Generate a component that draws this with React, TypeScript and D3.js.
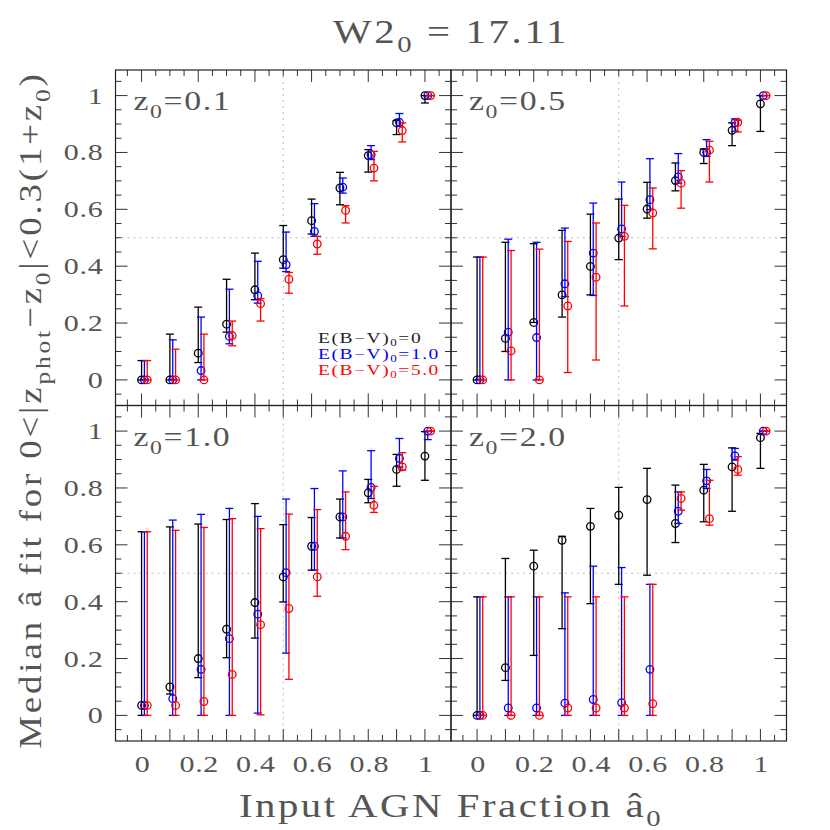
import React from "react";
import * as d3 from "d3";

const AGN_FRAC = [0, 0.1, 0.2, 0.3, 0.4, 0.5, 0.6, 0.7, 0.8, 0.9, 1.0];
const SERIES_OFFSETS = [0, 0.01, 0.02];
const SERIES_COLORS = ["#000000", "#0000ff", "#ff0000"];
const LEGEND_LABELS = ["0", "1.0", "5.0"];
const PANEL_LABELS = ["0.1", "0.5", "1.0", "2.0"];
const Y_TICK_LABELS = ["0", "0.2", "0.4", "0.6", "0.8", "1"];
const X_TICK_LABELS = ["0", "0.2", "0.4", "0.6", "0.8", "1"];

// Panel z0=0.1
const p1BlackMed = [0, 0, 0.094, 0.196, 0.317, 0.423, 0.56, 0.675, 0.789, 0.904, 1.0];
const p1BlackLo = [0, 0, 0.061, 0.168, 0.282, 0.393, 0.513, 0.616, 0.731, 0.863, 0.974];
const p1BlackHi = [0.068, 0.161, 0.256, 0.354, 0.446, 0.543, 0.636, 0.73, 0.81, 0.912, 1.0];
const p1BlueMed = [0, 0, 0.033, 0.153, 0.296, 0.405, 0.522, 0.678, 0.792, 0.906, 1.0];
const p1BlueLo = [0, 0, 0, 0.127, 0.27, 0.381, 0.505, 0.657, 0.775, 0.892, 1.0];
const p1BlueHi = [0.068, 0.141, 0.221, 0.319, 0.417, 0.52, 0.62, 0.71, 0.824, 0.937, 1.0];
const p1RedMed = [0, 0, 0, 0.156, 0.268, 0.354, 0.478, 0.596, 0.745, 0.877, 1.0];
const p1RedLo = [0, 0, 0, 0.12, 0.207, 0.305, 0.442, 0.552, 0.7, 0.837, 1.0];
const p1RedHi = [0.068, 0.108, 0.161, 0.207, 0.286, 0.378, 0.505, 0.613, 0.804, 0.904, 1.0];

// Panel z0=0.5
const p2BlackMed = [0, 0.146, 0.202, 0.299, 0.399, 0.499, 0.601, 0.701, 0.8, 0.878, 0.971];
const p2BlackLo = [0, 0.1, 0.202, 0.221, 0.299, 0.423, 0.569, 0.665, 0.761, 0.824, 0.874];
const p2BlackHi = [0.432, 0.484, 0.479, 0.526, 0.583, 0.636, 0.695, 0.763, 0.812, 0.904, 1.0];
const p2BlueMed = [0, 0.168, 0.149, 0.338, 0.446, 0.531, 0.634, 0.714, 0.8, 0.904, 1.0];
const p2BlueLo = [0, 0, 0, 0.293, 0.297, 0.505, 0.599, 0.692, 0.786, 0.874, 1.0];
const p2BlueHi = [0.432, 0.495, 0.484, 0.534, 0.622, 0.696, 0.778, 0.796, 0.845, 0.918, 1.0];
const p2RedMed = [0, 0.102, 0, 0.26, 0.361, 0.505, 0.587, 0.692, 0.808, 0.906, 1.0];
const p2RedLo = [0, 0, 0, 0.026, 0.07, 0.26, 0.461, 0.604, 0.696, 0.872, 1.0];
const p2RedHi = [0.432, 0.455, 0.46, 0.487, 0.552, 0.614, 0.675, 0.736, 0.839, 0.913, 1.0];

// Panel z0=1.0
const p3BlackMed = [0.035, 0.1, 0.2, 0.303, 0.397, 0.487, 0.595, 0.698, 0.783, 0.865, 0.912];
const p3BlackLo = [0, 0.075, 0.133, 0.203, 0.272, 0.399, 0.511, 0.624, 0.748, 0.806, 0.827];
const p3BlackHi = [0.646, 0.663, 0.673, 0.689, 0.745, 0.671, 0.696, 0.761, 0.83, 0.918, 0.998];
const p3BlueMed = [0.035, 0.059, 0.162, 0.27, 0.356, 0.502, 0.595, 0.698, 0.802, 0.904, 1.0];
const p3BlueLo = [0, 0, 0, 0, 0.008, 0.219, 0.511, 0.624, 0.763, 0.874, 0.97];
const p3BlueHi = [0.646, 0.687, 0.707, 0.728, 0.7, 0.761, 0.798, 0.86, 0.931, 0.974, 1.0];
const p3RedMed = [0.035, 0.035, 0.049, 0.144, 0.319, 0.376, 0.487, 0.63, 0.739, 0.874, 1.0];
const p3RedLo = [0, 0, 0, 0, 0.002, 0.127, 0.419, 0.583, 0.714, 0.863, 1.0];
const p3RedHi = [0.646, 0.651, 0.661, 0.692, 0.657, 0.708, 0.724, 0.786, 0.806, 0.924, 1.0];

// Panel z0=2.0
const p4BlackMed = [0, 0.168, 0.525, 0.616, 0.665, 0.704, 0.759, 0.675, 0.792, 0.874, 0.977];
const p4BlackLo = [0, 0.123, 0.211, 0.305, 0.393, 0.461, 0.493, 0.608, 0.681, 0.718, 0.869];
const p4BlackHi = [0.417, 0.552, 0.581, 0.63, 0.728, 0.802, 0.869, 0.81, 0.883, 0.941, 0.992];
const p4BlueMed = [0, 0.026, 0.026, 0.043, 0.056, 0.045, 0.162, 0.718, 0.825, 0.913, 1.0];
const p4BlueLo = [0, 0, 0, 0, 0, 0, 0, 0.675, 0.798, 0.898, 1.0];
const p4BlueHi = [0.417, 0.417, 0.417, 0.431, 0.525, 0.52, 0.461, 0.786, 0.865, 0.939, 1.0];
const p4RedMed = [0, 0, 0, 0.026, 0.026, 0.026, 0.041, 0.763, 0.692, 0.865, 1.0];
const p4RedLo = [0, 0, 0, 0, 0, 0, 0, 0.722, 0.669, 0.845, 1.0];
const p4RedHi = [0.417, 0.417, 0.417, 0.417, 0.417, 0.417, 0.461, 0.786, 0.827, 0.91, 1.0];

const PANELS = [
  [[p1BlackMed, p1BlackLo, p1BlackHi], [p1BlueMed, p1BlueLo, p1BlueHi], [p1RedMed, p1RedLo, p1RedHi]],
  [[p2BlackMed, p2BlackLo, p2BlackHi], [p2BlueMed, p2BlueLo, p2BlueHi], [p2RedMed, p2RedLo, p2RedHi]],
  [[p3BlackMed, p3BlackLo, p3BlackHi], [p3BlueMed, p3BlueLo, p3BlueHi], [p3RedMed, p3RedLo, p3RedHi]],
  [[p4BlackMed, p4BlackLo, p4BlackHi], [p4BlueMed, p4BlueLo, p4BlueHi], [p4RedMed, p4RedLo, p4RedHi]],
];

const W = 830;
const H = 830;
const COLS = [115.5, 451, 786.5];
const ROWS = [70, 405.5, 741];
const DOMAIN: [number, number] = [-0.092, 1.092];
const YDOMAIN: [number, number] = [-0.09, 1.09];
const TEXT = "#555555";
const FONT = "'Liberation Serif', 'DejaVu Serif', serif";

function Panel({ idx }: { idx: number }) {
  const col = idx % 2;
  const row = Math.floor(idx / 2);
  const x0 = COLS[col], x1 = COLS[col + 1];
  const y0 = ROWS[row], y1 = ROWS[row + 1];
  const x = d3.scaleLinear().domain(DOMAIN).range([x0, x1]);
  const y = d3.scaleLinear().domain(YDOMAIN).range([y1, y0]);
  const minorT = d3.range(-0.05, 1.0501, 0.05).map((v) => Math.round(v * 100) / 100);
  const xMajorStep = row === 0 ? 0.2 : 0.1;
  const isMajorX = (v: number) => Math.abs(v / xMajorStep - Math.round(v / xMajorStep)) < 1e-6 && v >= -1e-6;
  const isMajorY = (v: number) => Math.abs(v / 0.2 - Math.round(v / 0.2)) < 1e-6 && v >= -1e-6;
  const L = 12, S = 6;
  const data = PANELS[idx];
  return (
    <g>
      <line x1={x(0.5)} x2={x(0.5)} y1={y0} y2={y1} stroke="#bbb" strokeWidth={1} strokeDasharray="2,4" />
      <line x1={x0} x2={x1} y1={y(0.5)} y2={y(0.5)} stroke="#bbb" strokeWidth={1} strokeDasharray="2,4" />
      {minorT.map((v, i) => {
        const lx = isMajorX(v) ? L : S;
        const ly = isMajorY(v) ? L : S;
        return (
          <g key={i} stroke="#333" strokeWidth={1}>
            <line x1={x(v)} x2={x(v)} y1={y1} y2={y1 - lx} />
            <line x1={x(v)} x2={x(v)} y1={y0} y2={y0 + lx} />
            <line x1={x0} x2={x0 + ly} y1={y(v)} y2={y(v)} />
            <line x1={x1} x2={x1 - ly} y1={y(v)} y2={y(v)} />
          </g>
        );
      })}
      <rect x={x0} y={y0} width={x1 - x0} height={y1 - y0} fill="none" stroke="#222" strokeWidth={1.2} />
      <text transform={`translate(${x0 + 18},${y0 + 40}) scale(1.25,1)`} fontFamily={FONT} fontSize={27} fill={TEXT} letterSpacing={1.3}>
        z<tspan dy={8} fontSize={19}>0</tspan>
        <tspan dy={-8}>{"=" + PANEL_LABELS[idx]}</tspan>
      </text>
      {data.map((s, si) => (
        <g key={si} stroke={SERIES_COLORS[si]} fill="none" strokeWidth={1.3}>
          {AGN_FRAC.map((a, i) => {
            const cx = x(a + SERIES_OFFSETS[si]);
            return (
              <g key={i}>
                <line x1={cx} x2={cx} y1={y(s[1][i])} y2={y(s[2][i])} />
                <line x1={cx - 4} x2={cx + 4} y1={y(s[1][i])} y2={y(s[1][i])} />
                <line x1={cx - 4} x2={cx + 4} y1={y(s[2][i])} y2={y(s[2][i])} />
                <circle cx={cx} cy={y(s[0][i])} r={3.8} />
              </g>
            );
          })}
        </g>
      ))}
      {col === 0 &&
        Y_TICK_LABELS.map((t, i) => (
          <text key={i} transform={`translate(${x0 - 12},${y(+t) + 8}) scale(1.25,1)`} textAnchor="end" fontFamily={FONT} fontSize={24} fill={TEXT} letterSpacing={0.6}>
            {t}
          </text>
        ))}
      {row === 1 &&
        X_TICK_LABELS.map((t, i) => (
          <text key={i} transform={`translate(${x(+t) + 1},772) scale(1.25,1)`} textAnchor="middle" fontFamily={FONT} fontSize={24} fill={TEXT} letterSpacing={0.6}>
            {t}
          </text>
        ))}
    </g>
  );
}

export default function App() {
  return (
    <svg width={W} height={H} style={{ position: "absolute", left: 0, top: 0, background: "#fff" }}>
      <rect width={W} height={H} fill="#fff" />
      {[0, 1, 2, 3].map((i) => (
        <Panel key={i} idx={i} />
      ))}
      {LEGEND_LABELS.map((l, i) => (
        <text key={i} transform={`translate(318,${343 + i * 16}) scale(1.3,1)`} fontFamily={FONT} fontSize={15} fill={i === 0 ? "#222" : SERIES_COLORS[i]} letterSpacing={1.2}>
          E(B−V)<tspan dy={3} fontSize={10}>0</tspan>
          <tspan dy={-3}>{"=" + l}</tspan>
        </text>
      ))}
      <text transform="translate(451,43) scale(1.2,1)" textAnchor="middle" fontFamily={FONT} fontSize={34} fill={TEXT} letterSpacing={2.2}>
        W2<tspan dy={9} fontSize={24}>0</tspan>
        <tspan dy={-9}>{"  =  17.11"}</tspan>
      </text>
      <text transform="translate(451,817) scale(1.2,1)" textAnchor="middle" fontFamily={FONT} fontSize={34} fill={TEXT} letterSpacing={2.1}>
        Input AGN Fraction â<tspan dy={9} fontSize={24}>0</tspan>
      </text>
      <text
        transform="translate(41,410) rotate(-90) scale(1.15,1)"
        textAnchor="middle"
        fontFamily={FONT}
        fontSize={32}
        fill={TEXT}
        letterSpacing={2.5}
      >
        Median â fit for 0&lt;|z<tspan dy={9} fontSize={22}>phot</tspan>
        <tspan dy={-9}>−z</tspan>
        <tspan dy={9} fontSize={22}>0</tspan>
        <tspan dy={-9}>|&lt;0.3(1+z</tspan>
        <tspan dy={9} fontSize={22}>0</tspan>
        <tspan dy={-9}>)</tspan>
      </text>
    </svg>
  );
}
